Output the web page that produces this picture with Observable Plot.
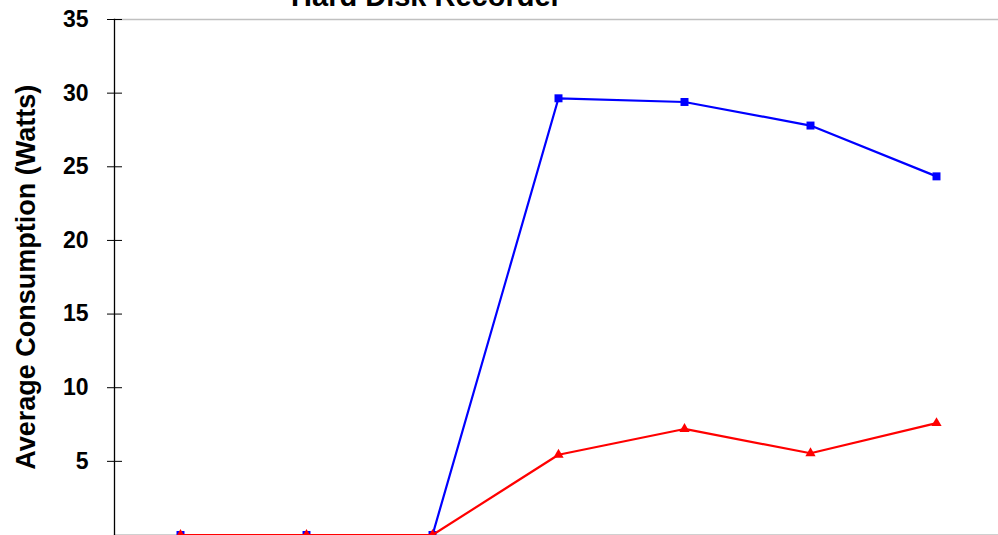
<!DOCTYPE html>
<html>
<head>
<meta charset="utf-8">
<script src="https://cdn.jsdelivr.net/npm/d3@7"></script>
<script src="https://cdn.jsdelivr.net/npm/@observablehq/plot@0.6"></script>
<style>
  html, body { margin: 0; padding: 0; background: #fff; }
  svg { display: block; font-family: "Liberation Sans", Arial, sans-serif; }
</style>
</head>
<body>
<div id="chart"></div>
<script>
// Seven operating modes of a hard disk recorder (category labels not shown)
const modes = ["Mode 1", "Mode 2", "Mode 3", "Mode 4", "Mode 5", "Mode 6", "Mode 7"];
// Average consumption in watts for each series
const seriesA = [0, 0, 0, 29.65, 29.4, 27.8, 24.35];
const seriesB = [0, 0, 0, 5.45, 7.2, 5.55, 7.6];
const yTicks = [5, 10, 15, 20, 25, 30, 35];
const title = "Hard Disk Recorder";
const yLabel = "Average Consumption (Watts)";

const rowsA = modes.map((m, i) => ({mode: m, value: seriesA[i]}));
const rowsB = modes.map((m, i) => ({mode: m, value: seriesB[i]}));

const chart = Plot.plot({
  width: 998,
  height: 535,
  marginLeft: 114,
  marginRight: -3,
  marginTop: 19,
  marginBottom: 0.5,
  style: {fontFamily: "'Liberation Sans', Arial, sans-serif", background: "#fff", overflow: "hidden"},
  x: {type: "point", domain: modes, padding: 0.5, axis: null},
  y: {domain: [0, 35], axis: null},
  marks: [
    // plot area border (top and bottom)
    Plot.frame({anchor: "top", stroke: "#c0c0c0", strokeWidth: 1.5}),
    Plot.frame({anchor: "bottom", stroke: "#c0c0c0", strokeWidth: 1.5}),
    // value axis: labels with outer ticks, then inner ticks crossing the axis line
    Plot.axisY({ticks: yTicks, tickSize: 7, tickPadding: 19, stroke: "#000", strokeWidth: 1, label: null,
      tickFormat: d => String(d), fontSize: 23, fontWeight: "bold", fill: "#000"}),
    Plot.axisY({ticks: yTicks, tickSize: -8, stroke: "#000", strokeWidth: 1, fill: "none", label: null}),
    Plot.frame({anchor: "left", stroke: "#000", strokeWidth: 1.3}),
    // series lines and markers
    Plot.line(rowsA, {x: "mode", y: "value", stroke: "#0000ff", strokeWidth: 2.2}),
    Plot.dot(rowsA, {x: "mode", y: "value", symbol: "square", r: 4.5, fill: "#0000ff", stroke: "none"}),
    Plot.line(rowsB, {x: "mode", y: "value", stroke: "#ff0000", strokeWidth: 2.2}),
    Plot.dot(rowsB, {x: "mode", y: "value", symbol: "triangle", r: 3.8, fill: "#ff0000", stroke: "none"}),
    // chart title and value axis title
    Plot.text([title], {frameAnchor: "top-left", dx: 312, dy: -14, text: d => d, lineAnchor: "bottom",
      textAnchor: "middle", fontSize: 29, fontWeight: "bold", fill: "#000"}),
    Plot.text([yLabel], {frameAnchor: "left", dx: -88, text: d => d, rotate: -90,
      textAnchor: "middle", lineAnchor: "middle", fontSize: 27, fontWeight: "bold", fill: "#000"})
  ]
});
document.getElementById("chart").appendChild(chart);
</script>
</body>
</html>
